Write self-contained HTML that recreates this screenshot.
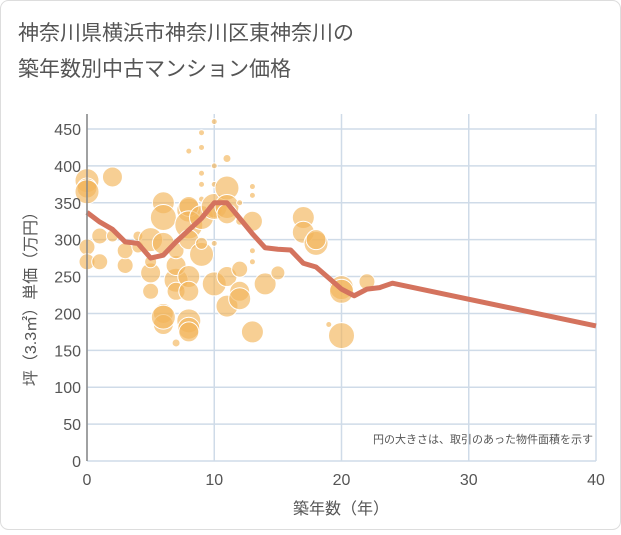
<!DOCTYPE html>
<html><head><meta charset="utf-8"><style>
body{margin:0;background:#fff;font-family:"Liberation Sans","Noto Sans CJK JP",sans-serif;}
svg text{font-family:"Liberation Sans","Noto Sans CJK JP",sans-serif;}
</style></head><body>
<svg width="621" height="530">
<rect x="0.5" y="0.5" width="620" height="529" rx="8" fill="#fff" stroke="#ddd"/>
<text x="18" y="40" font-size="21" fill="#555">神奈川県横浜市神奈川区東神奈川の</text>
<text x="18" y="76" font-size="21" fill="#555">築年数別中古マンション価格</text>
<g id="grid"></g><g id="bubbles"></g><g id="line"></g><g id="axes"></g>
<text x="593" y="443" font-size="11" fill="#555" text-anchor="end">円の大きさは、取引のあった物件面積を示す</text>
<text x="341" y="514" font-size="16" fill="#555" text-anchor="middle">築年数（年）</text>
<text transform="translate(36,295) rotate(-90)" font-size="16" fill="#555" text-anchor="middle">坪（3.3㎡）単価（万円）</text>
</svg>
<script>
const xTicks=[0,10,20,30,40];
const yTicks=[0,50,100,150,200,250,300,350,400,450];
const lineYears=[0,1,2,3,4,5,6,7,8,9,10,11,12,13,14,15,16,17,18,19,20,21,22,23,24,40];
const lineValues=[337,324,314,297,295,275,279,297,313,329,350,350,329,308,289,287,286,268,263,248,233,224,233,235,241,183];
const bubbleYears=[0,0,0,0,0,1,1,2,2,3,3,4,4,5,5,5,5,6,6,6,6,6,6,7,7,7,7,7,8,8,8,8,8,8,8,8,8,8,9,9,9,9,9,9,9,9,10,10,10,10,10,10,10,11,11,11,11,11,11,12,12,12,12,12,13,13,13,13,13,13,14,15,17,17,18,18,19,20,20,20,22];
const bubbleValues=[380,370,365,290,270,305,270,385,305,265,285,290,305,300,255,230,270,350,330,295,200,185,195,245,265,230,285,160,340,345,320,250,230,190,180,175,300,420,280,295,330,445,425,375,355,390,460,400,375,340,295,345,240,370,410,345,335,210,250,230,260,220,325,350,325,175,372,360,285,270,240,255,330,310,295,300,185,235,230,170,243];
const bubbleSizes=[12,10,12,8,8,8,8,10,6,8,8,6,5,12,10,8,6,11,13,11,10,10,12,12,10,9,8,4,12,10,14,11,10,12,11,10,10,3,12,6,12,3,3,3,3,3,3,3,3,8,3,13,12,12,4,12,10,11,10,10,8,11,4,3,10,11,3,3,3,3,11,7,11,11,12,10,3,12,12,13,8];
const X0=87,X1=596,Y0=461,Y1=129;
const xs=v=>X0+(X1-X0)*v/40, ys=v=>Y0-(Y0-Y1)*v/450;
const NS="http://www.w3.org/2000/svg";
function mk(t,a,p){const e=document.createElementNS(NS,t);for(const k in a)e.setAttribute(k,a[k]);p.appendChild(e);return e;}
const grid=document.getElementById('grid'),axes=document.getElementById('axes');
yTicks.forEach(v=>{const l=mk('line',{x1:X0,x2:X1,y1:ys(v),y2:ys(v),stroke:'#cfdbe8','stroke-width':1.5},grid);

const t=mk('text',{x:X0-6,y:ys(v)+6,'font-size':16,fill:'#555','text-anchor':'end'},axes);t.textContent=v;
});
xTicks.forEach(v=>{const l=mk('line',{x1:xs(v),x2:xs(v),y1:Y1-15,y2:Y0,stroke:'#cfdbe8','stroke-width':1.5},grid);

const t=mk('text',{x:xs(v),y:Y0+24,'font-size':16,fill:'#555','text-anchor':'middle'},axes);t.textContent=v;
});
const ax=mk('line',{x1:X0,x2:X0,y1:Y1-15,y2:Y0,stroke:'#888','stroke-width':1.5},axes);

const bg=document.getElementById('bubbles');
bubbleYears.forEach((yr,i)=>{const c=mk('circle',{cx:xs(yr),cy:ys(bubbleValues[i]),r:bubbleSizes[i],fill:'#f2b65a','fill-opacity':0.65,stroke:'#fff','stroke-width':1},bg);
});
const pts=lineYears.map((y,i)=>xs(y)+','+ys(lineValues[i])).join(' ');
const pl=mk('polyline',{points:pts,fill:'none',stroke:'#d4735e','stroke-width':5,'stroke-linejoin':'round'},document.getElementById('line'));

</script>
</body></html>
